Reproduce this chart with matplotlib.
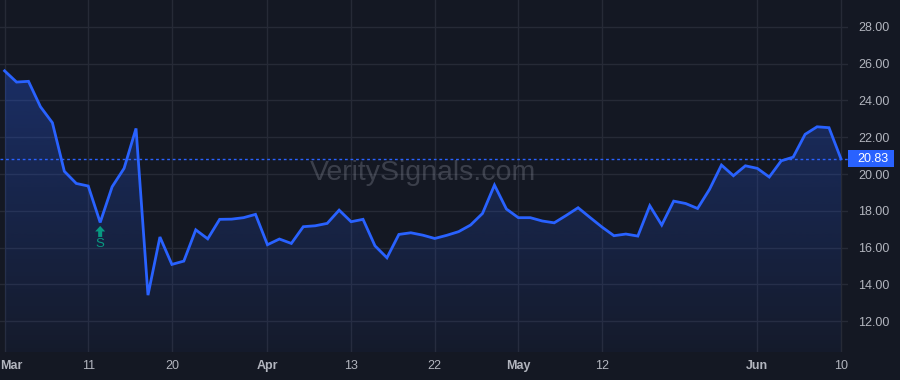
import numpy as np
import matplotlib
matplotlib.use("Agg")
import matplotlib.pyplot as plt
from matplotlib.patches import Rectangle, FancyArrow
from matplotlib.colors import LinearSegmentedColormap
from matplotlib.transforms import blended_transform_factory, ScaledTranslation

# ---- data ----
prices = [25.61, 25.00, 25.04, 23.66, 22.79, 20.15, 19.49, 19.35, 17.37, 19.31,
          20.31, 22.48, 13.42, 16.58, 15.09, 15.27, 16.97, 16.48, 17.54, 17.55,
          17.63, 17.81, 16.16, 16.47, 16.23, 17.14, 17.19, 17.32, 18.04, 17.41,
          17.54, 16.10, 15.45, 16.72, 16.81, 16.68, 16.50, 16.67, 16.87, 17.23,
          17.86, 19.40, 18.10, 17.63, 17.63, 17.45, 17.35, 17.75, 18.17, 17.64,
          17.12, 16.65, 16.74, 16.63, 18.28, 17.23, 18.53, 18.40, 18.13, 19.17,
          20.49, 19.91, 20.45, 20.31, 19.84, 20.72, 20.92, 22.16, 22.57, 22.52,
          20.83]
tick_idx = [0, 7, 14, 22, 29, 36, 43, 50, 63, 70]
tick_labels = ["Mar", "11", "20", "Apr", "13", "22", "May", "12", "Jun", "10"]
month_labels = {"Mar", "Apr", "May", "Jun"}
y_ticks = [12, 14, 16, 18, 20, 22, 24, 26, 28]
signal_idx = 8
signal_label = "S"
last_price = prices[-1]
watermark = "VeritySignals.com"

# ---- style ----
BG = "#141823"
GRID = "#262a36"
LINE = "#2962FF"
TXT = "#B2B5BE"
SIG = "#089981"

plt.rcParams['font.family'] = ['Liberation Sans', 'DejaVu Sans']

fig = plt.figure(figsize=(9, 3.8), dpi=100, facecolor=BG)
ax = fig.add_axes([0, 28/380, 848/900, 352/380])
ax.set_facecolor(BG)

x = np.arange(len(prices))
y = np.array(prices)

ylo, yhi = 10.33, 29.46
ax.set_xlim(-0.385, 70.59)
ax.set_ylim(ylo, yhi)

# gradient fill under the line
cmap = LinearSegmentedColormap.from_list(
    "g", [(41/255, 98/255, 1, 0.04), (41/255, 98/255, 1, 0.30)])
grad = np.linspace(0, 1, 256).reshape(-1, 1)
im = ax.imshow(grad, cmap=cmap, aspect='auto', origin='lower',
               extent=[x[0], x[-1], ylo, max(prices)], zorder=1)
poly = ax.fill_between(x, y, ylo, color='none', lw=0)
clip_path = poly.get_paths()[0]
im.set_clip_path(clip_path, transform=ax.transData)

ax.plot(x, y, color=LINE, lw=2.0, zorder=3, solid_joinstyle='miter')

# last price dotted line
ax.axhline(last_price, color=LINE, lw=1, linestyle=(0, (2, 2)), zorder=2)

# grid
ax.set_yticks(y_ticks)
ax.set_xticks(tick_idx)
ax.grid(True, color=GRID, lw=1)
ax.set_axisbelow(True)
for s in ax.spines.values():
    s.set_visible(False)

ax.yaxis.tick_right()
ax.set_yticklabels([f"{v:.2f}" for v in y_ticks])
ax.tick_params(axis='y', length=0, pad=7.5, labelsize=9, labelcolor=TXT)
ax.set_xticklabels(tick_labels)
ax.tick_params(axis='x', length=0, pad=6, labelsize=9, labelcolor=TXT)
for lbl in ax.get_xticklabels():
    if lbl.get_text() in month_labels:
        lbl.set_fontweight('bold')
first = ax.get_xticklabels()[0]
first.set_ha('left')
first.set_transform(first.get_transform() + ScaledTranslation(-4.5/100, 0, fig.dpi_scale_trans))

# price label box
bt = blended_transform_factory(ax.transAxes, ax.transData)
h = 16.7 / 18.4
ax.add_patch(Rectangle((1.0, last_price - h/2), 46/848, h, transform=bt,
                       facecolor=LINE, edgecolor='none', clip_on=False, zorder=5))
ax.text(1.0 + 24.5/848, last_price, f"{last_price:.2f}", transform=bt,
        ha='center', va='center', color='white', fontsize=9, zorder=6,
        clip_on=False)

# watermark
ax.text(423/848, 1 - 173/352, watermark, transform=ax.transAxes,
        ha='center', va='center', fontsize=20.5, color='#9094a0', alpha=0.32,
        zorder=2)

# signal marker
sv = prices[signal_idx]
ax.add_patch(FancyArrow(signal_idx, sv - 14.5/18.4, 0, 5.5/18.4,
                        width=4/11.95, head_width=10/11.95,
                        head_length=5.5/18.4, length_includes_head=False,
                        color=SIG, lw=0, zorder=4))
ax.text(signal_idx, sv - 21.5/18.4, signal_label, ha='center', va='center',
        color=SIG, fontsize=9.5, zorder=4)

fig.savefig("out.png", dpi=100, facecolor=BG)
